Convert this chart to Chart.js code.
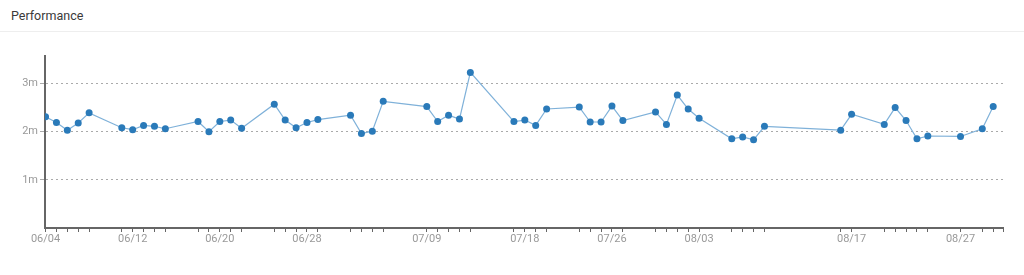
<!DOCTYPE html>
<html>
<head>
<meta charset="utf-8">
<script src="https://cdn.jsdelivr.net/npm/chart.js@4"></script>
<style>
  html, body { margin: 0; padding: 0; background: #fff; width: 1024px; height: 275px; overflow: hidden; font-family: Roboto, "Open Sans", sans-serif; }
  #header { position: absolute; left: 0; top: 0; width: 1024px; height: 32px; border-bottom: 1px solid #eeeeee; box-sizing: border-box; }
  #title { position: absolute; left: 11px; top: 8px; font-size: 12.5px; color: #3a3a3a; }
  #wrap { position: absolute; left: 0; top: 0; width: 1024px; height: 275px; }
</style>
</head>
<body>
<div id="header"><div id="title">Performance</div></div>
<div id="wrap"><canvas id="c" width="1024" height="275"></canvas></div>
<script>
const dates = ['06/04','06/05','06/06','06/07','06/08','06/11','06/12','06/13','06/14','06/15',
  '06/18','06/19','06/20','06/21','06/22','06/25','06/26','06/27','06/28','06/29',
  '07/02','07/03','07/04','07/05','07/09','07/10','07/11','07/12','07/13','07/17',
  '07/18','07/19','07/20','07/23','07/24','07/25','07/26','07/27','07/30','07/31',
  '08/01','08/02','08/03','08/06','08/07','08/08','08/09','08/16','08/17','08/20',
  '08/21','08/22','08/23','08/24','08/27','08/29','08/30'];
const values = [2.31,2.19,2.03,2.18,2.39,2.08,2.04,2.13,2.11,2.06,
  2.21,2.00,2.21,2.24,2.07,2.57,2.24,2.08,2.19,2.25,
  2.34,1.96,2.01,2.63,2.52,2.21,2.34,2.26,3.23,2.21,
  2.24,2.13,2.47,2.51,2.20,2.20,2.53,2.23,2.41,2.15,
  2.76,2.47,2.28,1.85,1.89,1.83,2.11,2.03,2.36,2.15,
  2.50,2.23,1.85,1.91,1.90,2.06,2.52];
const xTickLabels = ['06/04','06/12','06/20','06/28','07/09','07/18','07/26','08/03','08/17','08/27'];
const yTickValues = [1, 2, 3];

function dayIndex(s) {
  const [m, d] = s.split('/').map(Number);
  const base = Date.UTC(2023, 5, 4);
  return Math.round((Date.UTC(2023, m - 1, d) - base) / 86400000);
}
const days = dates.map(dayIndex);
const labelByDay = {};
dates.forEach((d, i) => { labelByDay[days[i]] = d; });
const X_MIN = -0.05, X_MAX = 87.9;

const points = days.map((d, i) => ({ x: d, y: values[i] }));

new Chart(document.getElementById('c'), {
  type: 'line',
  data: {
    datasets: [{
      data: points,
      borderColor: '#7fb1d9',
      borderWidth: 1.2,
      pointBackgroundColor: '#2a7ab9',
      pointBorderColor: '#2a7ab9',
      pointBorderWidth: 0,
      pointRadius: 3.5,
      tension: 0,
      fill: false
    }]
  },
  options: {
    responsive: false,
    animation: false,
    layout: { padding: { top: 56, left: 0, right: 21, bottom: 25 } },
    plugins: { legend: { display: false }, tooltip: { enabled: false } },
    scales: {
      x: {
        type: 'linear',
        min: X_MIN,
        max: X_MAX,
        afterBuildTicks: (scale) => {
          scale.ticks = days.concat([X_MAX]).map(v => ({ value: v }));
        },
        afterFit: (scale) => { scale.height = 22; },
        ticks: {
          autoSkip: false,
          maxRotation: 0,
          padding: 1,
          color: '#999',
          font: { family: 'Roboto', size: 11 },
          callback: (v) => {
            const l = labelByDay[v];
            return (l && xTickLabels.includes(l)) ? l : '';
          }
        },
        grid: { display: true, drawOnChartArea: false, drawTicks: true, tickLength: 4, color: '#666', tickColor: '#666', lineWidth: 1 },
        border: { display: true, color: '#666', width: 2 }
      },
      y: {
        min: 0,
        max: 3.57,
        afterBuildTicks: (scale) => {
          scale.ticks = yTickValues.map(v => ({ value: v }));
        },
        afterFit: (scale) => { scale.width = 45; },
        ticks: {
          padding: 2,
          color: '#999',
          font: { family: 'Roboto', size: 11 },
          callback: (v) => v + 'm'
        },
        grid: { display: true, drawTicks: true, tickLength: 5, color: '#aaa', tickColor: '#aaa', lineWidth: 1 },
        border: { display: true, color: '#666', width: 2, dash: [2, 3] }
      }
    }
  }
});
</script>
</body>
</html>
